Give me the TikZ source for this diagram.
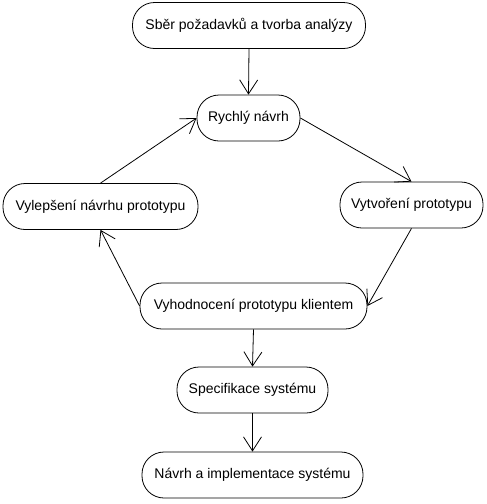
\documentclass[tikz,border=0pt]{standalone}
\usepackage{fontspec}
\setmainfont{Liberation Sans}
\usetikzlibrary{arrows.meta}
\begin{document}
\begin{tikzpicture}[x=1pt,y=-1pt,
  box/.style={draw=black, line width=0.8pt, fill=white, rectangle, rounded corners=22pt,
    minimum height=46pt, inner sep=0pt, font=\fontsize{14}{16}\selectfont},
  conn/.style={draw=black, line width=0.8pt, -{Straight Barb[length=14pt,width=18pt,line width=0.8pt]}}]
\useasboundingbox (0,0) rectangle (487,504);
\node[box, minimum width=233pt] (a) at (249,25.5) {Sběr požadavků a tvorba analýzy};
\node[box, minimum width=103pt] (b) at (248.5,118) {Rychlý návrh};
\node[box, minimum width=195pt] (c) at (100.5,206.5) {Vylepšení návrhu prototypu};
\node[box, minimum width=143pt] (d) at (411.5,205) {Vytvoření prototypu};
\node[box, minimum width=227pt] (e) at (253.5,306) {Vyhodnocení prototypu klientem};
\node[box, minimum width=151pt] (f) at (252.5,390) {Specifikace systému};
\node[box, minimum width=221pt] (g) at (252.5,475) {Návrh a implementace systému};
\draw[conn] (a.south) -- (b.north);
\draw[conn] (b.east) -- (d.north);
\draw[conn] (d.south) -- (e.east);
\draw[conn] (e.west) -- (c.south);
\draw[conn] (c.north) -- (b.west);
\draw[conn] (e.south) -- (f.north);
\draw[conn] (f.south) -- (g.north);
\end{tikzpicture}
\end{document}
